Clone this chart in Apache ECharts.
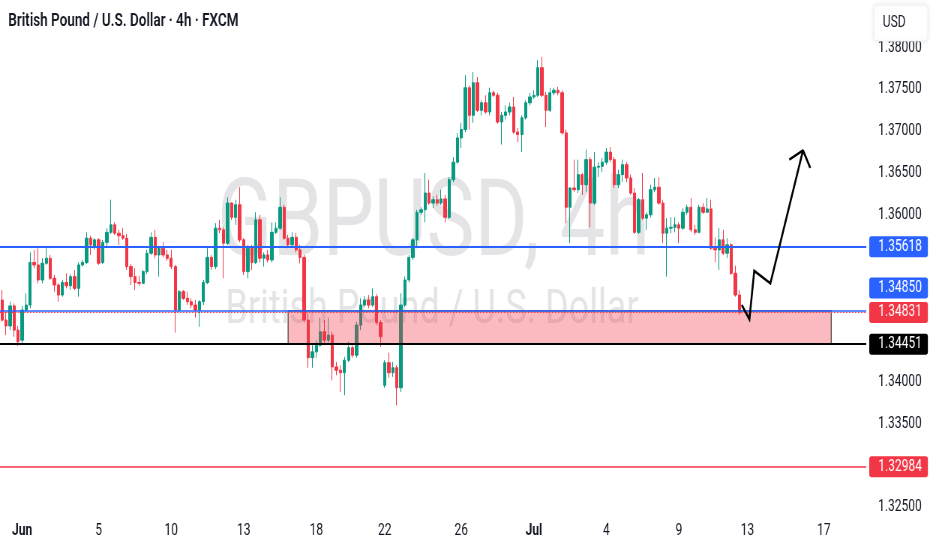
<!DOCTYPE html>
<html>
<head>
<meta charset="utf-8">
<script src="https://cdn.jsdelivr.net/npm/echarts@6/dist/echarts.min.js"></script>
<style>
html,body{margin:0;padding:0;background:#fff;overflow:hidden;width:932px;height:550px}
#wrap{width:932px;height:550px;overflow:hidden;position:relative}
#chart{width:1243px;height:550px;transform:scaleX(0.75);transform-origin:0 0}
</style>
</head>
<body>
<div id="wrap"><div id="chart"></div></div>
<script>
// GBPUSD 4h candles (FXCM), 30 May - 11 Jul
const opens = [
1.3498,1.3474,1.3467,1.3491,1.3462,1.3450,1.3486,1.3492,1.3543,1.3540,
1.3522,1.3542,1.3548,1.3524,1.3516,1.3504,1.3519,1.3515,1.3526,1.3512,
1.3540,1.3543,1.3572,1.3561,1.3570,1.3543,1.3567,1.3579,1.3588,1.3578,
1.3575,1.3572,1.3538,1.3526,1.3519,1.3518,1.3532,1.3554,1.3573,1.3552,
1.3560,1.3552,1.3548,1.3538,1.3486,1.3508,1.3500,1.3496,1.3492,1.3486,
1.3496,1.3519,1.3549,1.3538,1.3584,1.3582,1.3566,1.3614,1.3597,1.3612,
1.3570,1.3532,1.3560,1.3543,1.3594,1.3548,1.3552,1.3546,1.3579,1.3584,
1.3609,1.3572,1.3564,1.3573,1.3558,1.3549,1.3474,1.3429,1.3436,1.3444,
1.3460,1.3450,1.3456,1.3418,1.3414,1.3411,1.3426,1.3441,1.3432,1.3468,
1.3492,1.3498,1.3492,1.3502,1.3471,1.3396,1.3423,1.3411,1.3417,1.3393,
1.3492,1.3522,1.3549,1.3570,1.3603,1.3606,1.3626,1.3614,1.3618,1.3614,
1.3619,1.3597,1.3642,1.3663,1.3692,1.3702,1.3752,1.3719,1.3758,1.3725,
1.3734,1.3723,1.3746,1.3743,1.3711,1.3719,1.3723,1.3729,1.3699,1.3696,
1.3716,1.3734,1.3741,1.3743,1.3776,1.3743,1.3725,1.3746,1.3749,1.3746,
1.3698,1.3609,1.3632,1.3630,1.3648,1.3636,1.3666,1.3614,1.3657,1.3658,
1.3663,1.3675,1.3666,1.3636,1.3648,1.3660,1.3644,1.3626,1.3579,1.3618,
1.3596,1.3600,1.3630,1.3633,1.3614,1.3578,1.3584,1.3585,1.3588,1.3584,
1.3603,1.3609,1.3582,1.3579,1.3609,1.3603,1.3607,1.3560,1.3558,1.3570,
1.3554,1.3564,1.3530,1.3504
];
const closes = [
1.3474,1.3467,1.3491,1.3462,1.3448,1.3486,1.3492,1.3543,1.3540,1.3522,
1.3542,1.3548,1.3524,1.3516,1.3504,1.3519,1.3515,1.3526,1.3512,1.3540,
1.3543,1.3572,1.3564,1.3570,1.3542,1.3567,1.3579,1.3588,1.3578,1.3575,
1.3572,1.3538,1.3526,1.3519,1.3518,1.3532,1.3554,1.3573,1.3552,1.3560,
1.3552,1.3548,1.3538,1.3486,1.3508,1.3500,1.3496,1.3492,1.3486,1.3496,
1.3519,1.3549,1.3538,1.3584,1.3582,1.3566,1.3614,1.3597,1.3612,1.3570,
1.3532,1.3560,1.3543,1.3594,1.3548,1.3552,1.3546,1.3579,1.3584,1.3609,
1.3572,1.3564,1.3573,1.3558,1.3549,1.3474,1.3429,1.3436,1.3444,1.3460,
1.3450,1.3456,1.3418,1.3414,1.3411,1.3426,1.3441,1.3432,1.3468,1.3492,
1.3498,1.3492,1.3502,1.3471,1.3454,1.3423,1.3411,1.3417,1.3393,1.3492,
1.3522,1.3549,1.3570,1.3603,1.3606,1.3626,1.3614,1.3618,1.3614,1.3619,
1.3597,1.3642,1.3663,1.3692,1.3702,1.3752,1.3719,1.3758,1.3725,1.3734,
1.3723,1.3746,1.3743,1.3711,1.3719,1.3723,1.3729,1.3699,1.3696,1.3716,
1.3734,1.3741,1.3743,1.3776,1.3743,1.3725,1.3746,1.3749,1.3746,1.3698,
1.3609,1.3632,1.3630,1.3648,1.3636,1.3666,1.3614,1.3657,1.3658,1.3663,
1.3675,1.3666,1.3636,1.3648,1.3660,1.3644,1.3626,1.3579,1.3618,1.3596,
1.3600,1.3630,1.3633,1.3614,1.3578,1.3584,1.3585,1.3588,1.3584,1.3603,
1.3609,1.3582,1.3579,1.3609,1.3603,1.3607,1.3560,1.3558,1.3570,1.3554,
1.3564,1.3530,1.3504,1.34831
];
const lows = [
1.3472,1.3456,1.3462,1.3454,1.3443,1.3445,1.3484,1.3488,1.3536,1.3518,
1.3518,1.3540,1.3522,1.3508,1.3496,1.3502,1.3512,1.3510,1.3510,1.3502,
1.3538,1.3541,1.3552,1.3558,1.3540,1.3541,1.3561,1.3577,1.3576,1.3564,
1.3570,1.3534,1.3516,1.3510,1.3515,1.3517,1.3529,1.3552,1.3548,1.3526,
1.3549,1.3545,1.3535,1.3459,1.3482,1.3498,1.3492,1.3488,1.3477,1.3466,
1.3492,1.3517,1.3534,1.3535,1.3578,1.3524,1.3564,1.3594,1.3588,1.3567,
1.3528,1.3524,1.3534,1.3541,1.3543,1.3538,1.3543,1.3543,1.3577,1.3582,
1.3570,1.3560,1.3561,1.3555,1.3542,1.3471,1.3417,1.3417,1.3429,1.3442,
1.3444,1.3446,1.3402,1.3408,1.3388,1.3384,1.3424,1.3429,1.3429,1.3462,
1.3490,1.3488,1.3490,1.3468,1.3442,1.3393,1.3405,1.3406,1.3372,1.3388,
1.3490,1.3519,1.3546,1.3560,1.3600,1.3591,1.3612,1.3608,1.3611,1.3612,
1.3591,1.3595,1.3639,1.3661,1.3680,1.3699,1.3702,1.3710,1.3723,1.3719,
1.3721,1.3719,1.3741,1.3709,1.3684,1.3714,1.3719,1.3697,1.3687,1.3675,
1.3714,1.3731,1.3739,1.3741,1.3741,1.3705,1.3723,1.3743,1.3743,1.3696,
1.3590,1.3566,1.3627,1.3626,1.3624,1.3627,1.3585,1.3612,1.3645,1.3651,
1.3660,1.3663,1.3632,1.3632,1.3639,1.3639,1.3624,1.3577,1.3577,1.3594,
1.3582,1.3597,1.3627,1.3612,1.3566,1.3526,1.3578,1.3579,1.3566,1.3582,
1.3600,1.3579,1.3576,1.3578,1.3601,1.3603,1.3558,1.3543,1.3534,1.3552,
1.3548,1.3528,1.3502,1.3480
];
const highs = [
1.3510,1.3484,1.3496,1.3494,1.3467,1.3491,1.3506,1.3555,1.3558,1.3560,
1.3548,1.3560,1.3552,1.3528,1.3518,1.3522,1.3530,1.3529,1.3534,1.3543,
1.3546,1.3579,1.3575,1.3572,1.3572,1.3570,1.3584,1.3618,1.3591,1.3582,
1.3584,1.3577,1.3541,1.3536,1.3527,1.3534,1.3558,1.3579,1.3582,1.3563,
1.3567,1.3558,1.3558,1.3540,1.3510,1.3510,1.3508,1.3500,1.3498,1.3498,
1.3522,1.3560,1.3552,1.3590,1.3594,1.3585,1.3621,1.3615,1.3618,1.3633,
1.3572,1.3564,1.3564,1.3603,1.3600,1.3555,1.3558,1.3591,1.3591,1.3621,
1.3612,1.3576,1.3579,1.3578,1.3564,1.3552,1.3484,1.3444,1.3450,1.3477,
1.3474,1.3477,1.3460,1.3424,1.3420,1.3430,1.3448,1.3444,1.3472,1.3500,
1.3503,1.3504,1.3512,1.3505,1.3474,1.3426,1.3435,1.3424,1.3420,1.3506,
1.3526,1.3552,1.3572,1.3606,1.3609,1.3650,1.3642,1.3622,1.3624,1.3630,
1.3624,1.3645,1.3669,1.3698,1.3710,1.3767,1.3755,1.3771,1.3765,1.3737,
1.3743,1.3752,1.3749,1.3746,1.3723,1.3731,1.3734,1.3741,1.3704,1.3719,
1.3737,1.3746,1.3749,1.3785,1.3789,1.3747,1.3752,1.3752,1.3753,1.3749,
1.3702,1.3633,1.3666,1.3666,1.3650,1.3678,1.3669,1.3675,1.3663,1.3668,
1.3680,1.3681,1.3669,1.3654,1.3666,1.3663,1.3648,1.3632,1.3620,1.3650,
1.3603,1.3636,1.3644,1.3645,1.3618,1.3596,1.3597,1.3597,1.3591,1.3608,
1.3612,1.3620,1.3588,1.3612,1.3614,1.3620,1.3618,1.3573,1.3584,1.3582,
1.3572,1.3566,1.3539,1.3510
];

// time-scale labels (slot index -> text), 4h slots incl. empty future space
const slotCount = 215;
const tickIndex = [5, 24, 42, 60, 78, 95, 114, 132, 150, 168, 185, 204];
const tickText  = ['Jun', '5', '10', '13', '18', '22', '26', 'Jul', '4', '9', '13', '17'];
const boldTicks = ['Jun', 'Jul'];

// price scale
const priceMin = 1.325, priceMax = 1.3857, priceStep = 0.005;
const hiddenPriceTicks = [1.385, 1.355, 1.350, 1.345, 1.330];

// horizontal levels
const levelPrices = [1.35618, 1.34850, 1.34831, 1.34451, 1.32984];

// drawn zone and arrow (slot, price)
const zoneSlots = [71, 205.8];
const zonePrices = [1.34850, 1.34451];
const arrowSlots  = [183.6, 185.5, 186.7, 190.7, 198.8];
const arrowPrices = [1.3492, 1.3475, 1.3533, 1.3518, 1.3677];
const headSlots  = [195.4, 198.8, 200.6];
const headPrices = [1.3666, 1.3677, 1.3656];

const UP = '#089981', DOWN = '#f23645', BLUE = '#2962ff', TXT = '#131722';
const FONT = 'Roboto';

const slots = Array.from({length: slotCount}, (_, i) => String(i));
const candles = opens.map((o, i) => [o, closes[i], lows[i], highs[i]]);
const arrowData = arrowSlots.map((s, i) => [s, arrowPrices[i]]);
const headData = headSlots.map((s, i) => [s, headPrices[i]]);

function tag(bg, dy) {
  return {
    show: true, position: 'end', distance: 4,
    formatter: p => Number(p.value).toFixed(5),
    color: '#fff', backgroundColor: bg, padding: [3, 8, 2, 12], borderRadius: 3,
    fontSize: 16, lineHeight: 16, fontFamily: FONT, offset: [0, dy || 0]
  };
}

const chart = echarts.init(document.getElementById('chart'), null, {renderer: 'canvas'});
chart.setOption({
  animation: false,
  backgroundColor: '#ffffff',
  grid: {left: 0, right: 88, top: 0, bottom: 42.7, containLabel: false, outerBoundsMode: 'none'},
  xAxis: [{
    type: 'category', data: slots, boundaryGap: true,
    axisLine: {show: false}, axisTick: {show: false}, splitLine: {show: false},
    axisLabel: {
      interval: (idx) => tickIndex.indexOf(idx) >= 0,
      formatter: (v, idx) => {
        const k = tickIndex.indexOf(Number(v));
        if (k < 0) return '';
        const t = tickText[k];
        return boldTicks.indexOf(t) >= 0 ? '{b|' + t + '}' : t;
      },
      margin: 16, fontSize: 16, fontFamily: FONT, color: TXT,
      rich: {b: {fontSize: 16, fontFamily: FONT, fontWeight: 'bold', color: TXT}}
    }
  }, {
    type: 'value', min: -0.5, max: slotCount - 0.5, show: false
  }],
  yAxis: {
    type: 'value', position: 'right', min: priceMin, max: priceMax, interval: priceStep,
    axisLine: {show: false}, axisTick: {show: false}, splitLine: {show: false},
    axisLabel: {
      margin: 74, align: 'right', fontSize: 16, fontFamily: FONT, color: TXT,
      showMaxLabel: false,
      formatter: v => hiddenPriceTicks.some(h => Math.abs(h - v) < 1e-6) ? '' : v.toFixed(5)
    }
  },
  graphic: {elements: [
    {type: 'text', x: 578, y: 228, z: -10, silent: true,
     style: {text: 'GBPUSD, 4h', fill: '#e4e4e6', font: '108px Roboto', align: 'center', verticalAlign: 'middle'}},
    {type: 'text', x: 576, y: 311, z: -10, silent: true,
     style: {text: 'British Pound / U.S. Dollar', fill: '#e4e4e6', font: '48px Roboto', align: 'center', verticalAlign: 'middle'}},
    {type: 'text', x: 11, y: 21, z: 100,
     style: {text: 'British Pound / U.S. Dollar · 4h · FXCM', fill: TXT, font: '600 18px Roboto', verticalAlign: 'middle'}},
    {type: 'rect', z: 100, shape: {x: 1165, y: 5, width: 72, height: 36, r: 4},
     style: {fill: '#ffffff', stroke: '#eef0f3', lineWidth: 1, shadowBlur: 6, shadowColor: 'rgba(0,0,0,0.08)'}},
    {type: 'text', x: 1177, y: 23, z: 101,
     style: {text: 'USD', fill: TXT, font: '16px Roboto', verticalAlign: 'middle'}}
  ]},
  series: [{
    type: 'candlestick', name: 'GBPUSD', data: candles, xAxisIndex: 0, yAxisIndex: 0,
    barWidth: '72%', z: 2,
    itemStyle: {color: UP, color0: DOWN, borderColor: UP, borderColor0: DOWN, borderWidth: 1},
    markLine: {
      silent: true, symbol: ['none', 'none'], z: 5, animation: false, precision: 5,
      data: [
        {yAxis: levelPrices[0], lineStyle: {color: BLUE, width: 2.2, type: 'solid'}, label: tag(BLUE)},
        {yAxis: levelPrices[1], lineStyle: {color: BLUE, width: 1.5, type: 'solid'}, label: tag(BLUE, -23)},
        {yAxis: levelPrices[2], lineStyle: {color: DOWN, width: 1, type: 'dotted'}, label: tag(DOWN)},
        {yAxis: levelPrices[3], lineStyle: {color: '#000000', width: 2, type: 'solid'}, label: tag('#000000')},
        {yAxis: levelPrices[4], lineStyle: {color: DOWN, width: 1.5, type: 'solid'}, label: tag(DOWN)}
      ]
    }
  }, {
    type: 'line', name: 'arrow', xAxisIndex: 1, yAxisIndex: 0, data: arrowData,
    symbol: 'none', z: 6, silent: true,
    lineStyle: {color: '#000000', width: 2.6, join: 'miter'},
    markArea: {
      silent: true, z: 4,
      itemStyle: {color: 'rgba(242,54,69,0.34)', borderColor: '#2a1a1a', borderWidth: 1},
      data: [[{coord: [zoneSlots[0], zonePrices[0]]}, {coord: [zoneSlots[1], zonePrices[1]]}]]
    }
  }, {
    type: 'line', name: 'arrowhead', xAxisIndex: 1, yAxisIndex: 0, data: headData,
    symbol: 'none', z: 6, silent: true,
    lineStyle: {color: '#000000', width: 2.6}
  }]
});
</script>
</body>
</html>
